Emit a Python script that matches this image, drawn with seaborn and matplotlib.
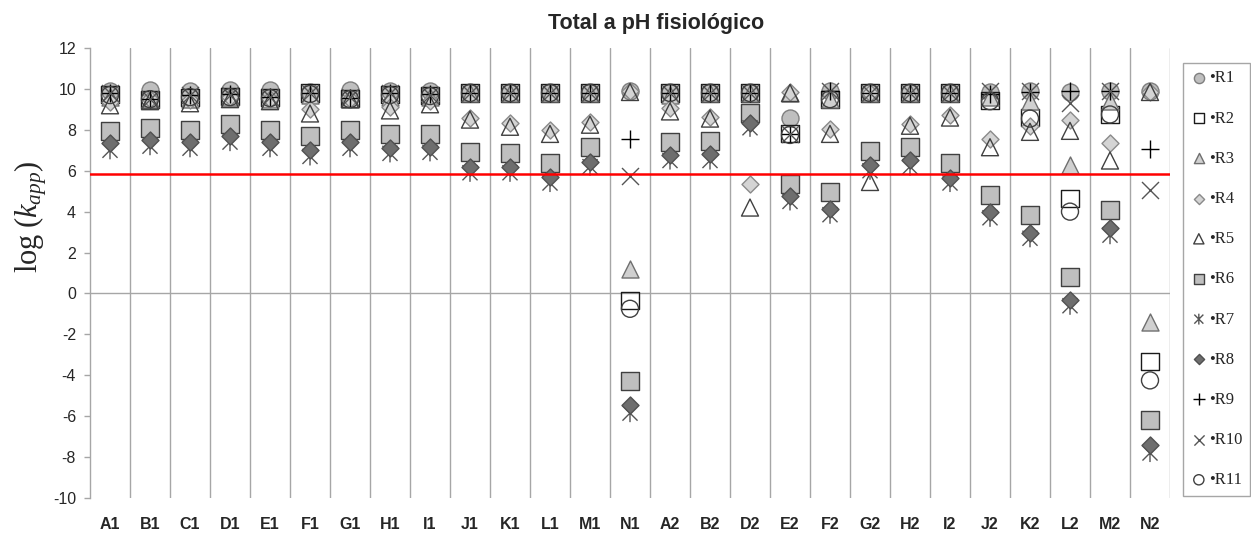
import matplotlib
matplotlib.use("Agg")
import matplotlib.pyplot as plt
from matplotlib.path import Path
import numpy as np
import pandas as pd
import seaborn as sns

# Compounds along the x axis
categories = ["A1", "B1", "C1", "D1", "E1", "F1", "G1", "H1", "I1", "J1", "K1", "L1", "M1", "N1",
              "A2", "B2", "D2", "E2", "F2", "G2", "H2", "I2", "J2", "K2", "L2", "M2", "N2"]

# log(k_app) for each reaction, one value per compound
r1 = [9.9, 9.95, 9.9, 9.95, 9.95, 9.85, 9.95, 9.9, 9.9, 9.85, 9.85, 9.85, 9.85, 9.9,
      9.85, 9.85, 9.85, 8.6, 9.9, 9.85, 9.85, 9.85, 9.85, 9.9, 9.85, 9.9, 9.9]
r2 = [9.75, 9.5, 9.6, 9.65, 9.6, 9.8, 9.55, 9.75, 9.7, 9.8, 9.8, 9.8, 9.8, -0.35,
      9.8, 9.8, 9.8, 7.8, 9.5, 9.8, 9.8, 9.8, 9.45, 8.6, 4.65, 8.75, -3.35]
r3 = [9.6, 9.5, 9.5, 9.6, 9.5, 9.7, 9.5, 9.6, 9.6, 9.8, 9.8, 9.8, 9.8, 1.2,
      9.7, 9.8, 9.8, 9.8, 9.5, 9.8, 9.8, 9.8, 9.6, 9.4, 6.3, 9.4, -1.4]
r4 = [9.35, 9.5, 9.45, 9.6, 9.5, 9.0, 9.5, 9.1, 9.4, 8.6, 8.35, 8.0, 8.4, 9.9,
      9.05, 8.65, 5.35, 9.85, 8.05, 9.8, 8.3, 8.7, 7.55, 8.2, 8.5, 7.35, 9.85]
r5 = [9.2, 9.4, 9.3, 9.5, 9.4, 8.8, 9.5, 8.95, 9.25, 8.5, 8.15, 7.8, 8.25, 9.85,
      8.9, 8.55, 4.2, 9.8, 7.8, 5.45, 8.2, 8.6, 7.15, 7.9, 7.95, 6.5, 9.85]
r6 = [7.95, 8.1, 8.0, 8.3, 8.0, 7.7, 8.0, 7.8, 7.8, 6.9, 6.85, 6.4, 7.15, -4.3,
      7.4, 7.45, 8.8, 5.35, 4.95, 6.95, 7.15, 6.4, 4.8, 3.85, 0.8, 4.1, -6.2]
r7 = [7.0, 7.2, 7.1, 7.4, 7.1, 6.7, 7.1, 6.85, 6.9, 5.9, 5.9, 5.4, 6.2, -5.85,
      6.5, 6.5, 8.1, 4.5, 3.85, 6.0, 6.2, 5.4, 3.7, 2.7, -0.6, 2.85, -7.8]
r8 = [7.35, 7.5, 7.4, 7.7, 7.4, 7.0, 7.4, 7.1, 7.15, 6.2, 6.2, 5.7, 6.45, -5.45,
      6.75, 6.8, 8.35, 4.75, 4.15, 6.3, 6.5, 5.65, 4.0, 2.95, -0.3, 3.2, -7.4]
r9 = [9.8, 9.5, 9.7, 9.75, 9.6, 9.8, 9.55, 9.8, 9.75, 9.8, 9.8, 9.8, 9.8, 7.55,
      9.8, 9.8, 9.8, 7.8, 9.9, 9.8, 9.8, 9.8, 9.75, 9.85, 9.9, 9.9, 7.05]
r10 = [9.8, 9.5, 9.7, 9.7, 9.6, 9.8, 9.6, 9.8, 9.7, 9.8, 9.8, 9.8, 9.8, 5.75,
       9.8, 9.8, 9.8, 7.8, 9.9, 9.8, 9.8, 9.8, 9.9, 9.9, 9.3, 9.9, 5.05]
r11 = [9.7, 9.5, 9.6, 9.6, 9.55, 9.75, 9.5, 9.7, 9.65, 9.8, 9.8, 9.8, 9.8, -0.75,
       9.8, 9.8, 9.8, 7.75, 9.5, 9.8, 9.8, 9.8, 9.4, 8.55, 4.0, 8.75, -4.25]

series_names = ["R1", "R2", "R3", "R4", "R5", "R6", "R7", "R8", "R9", "R10", "R11"]
series_values = [r1, r2, r3, r4, r5, r6, r7, r8, r9, r10, r11]
threshold = 5.85

y_ticks = list(range(-10, 13, 2))

# Six-armed star: an X crossed by a vertical stroke
star = Path([(-1, -1), (1, 1), (-1, 1), (1, -1), (0, -1.2), (0, 1.2)],
            [Path.MOVETO, Path.LINETO, Path.MOVETO, Path.LINETO, Path.MOVETO, Path.LINETO])

# Filled / outlined markers get face and edge colours; line-art markers only a colour
styles = {
    "R1": dict(marker="o", s=150, facecolor="#bfbfbf", edgecolor="#7f7f7f", color="#7f7f7f"),
    "R2": dict(marker="s", s=150, facecolor="none", edgecolor="#1a1a1a", color="#1a1a1a"),
    "R3": dict(marker="^", s=150, facecolor="#d0d0d0", edgecolor="#6f6f6f", color="#6f6f6f"),
    "R4": dict(marker="D", s=75, facecolor="#d4d4d4", edgecolor="#8a8a8a", color="#8a8a8a"),
    "R5": dict(marker="^", s=150, facecolor="none", edgecolor="#404040", color="#404040"),
    "R6": dict(marker="s", s=150, facecolor="#bfbfbf", edgecolor="#404040", color="#404040"),
    "R7": dict(marker=star, s=170, facecolor="none", edgecolor="#555555", color="#555555"),
    "R8": dict(marker="D", s=75, facecolor="#6e6e6e", edgecolor="#505050", color="#505050"),
    "R9": dict(marker="+", s=180, color="#000000"),
    "R10": dict(marker="x", s=150, color="#555555"),
    "R11": dict(marker="o", s=150, facecolor="none", edgecolor="#404040", color="#404040"),
}

rows = []
for name, vals in zip(series_names, series_values):
    for cat, v in zip(categories, vals):
        rows.append({"compound": cat, "reaction": name, "logk": v})
df = pd.DataFrame(rows)

sns.set_theme(style="white")
plt.rcParams["font.family"] = ["Liberation Sans", "DejaVu Sans"]
plt.rcParams["mathtext.fontset"] = "custom"
plt.rcParams["mathtext.rm"] = "Liberation Serif"
plt.rcParams["mathtext.it"] = "Liberation Serif:italic"

fig = plt.figure(figsize=(12.51, 5.41), dpi=100)
ax = fig.add_axes([90 / 1251, 43 / 541, 1080 / 1251, 450 / 541])

n = len(categories)
# Category separators and zero line
for b in np.arange(0.5, n, 1.0):
    ax.axvline(b, color="#a6a6a6", lw=1.0, zorder=0)
ax.axhline(0, color="#a6a6a6", lw=1.0, zorder=0)

handles = []
for i, name in enumerate(series_names):
    st = dict(styles[name])
    sub = df[df["reaction"] == name]
    sns.scatterplot(data=sub, x="compound", y="logk", ax=ax, legend=False,
                    linewidth=1.0, zorder=3 + i, **st)
    handles.append(ax.collections[-1])

ax.axhline(threshold, color="#ff0000", lw=1.8, zorder=20)

ax.set_xlim(-0.5, n - 0.5)
ax.set_ylim(-10, 12)
ax.set_yticks(y_ticks)
ax.set_yticklabels([str(t) for t in y_ticks], fontsize=11.5)
ax.set_xticks(range(n))
ax.set_xticklabels(categories, fontsize=11.5, fontweight="bold")
ax.tick_params(axis="x", length=0, pad=14)
ax.tick_params(axis="y", length=4, width=1, color="#a6a6a6", direction="out", left=True, pad=6)
for side in ["top", "bottom", "right"]:
    ax.spines[side].set_visible(False)
ax.spines["left"].set_color("#a6a6a6")
ax.spines["left"].set_linewidth(1.0)
ax.set_xlabel("")
ax.set_ylabel(r"$\mathrm{log}\;(k_{app})$", fontsize=22)
ax.yaxis.set_label_coords(-0.038, 0.624)

fig.text(656 / 1251, 1 - 23 / 541, "Total a pH fisiológico", ha="center", va="center",
         fontsize=15.5, fontweight="bold")

leg = fig.legend(handles, ["\u2022" + s for s in series_names],
                 loc="upper left", bbox_to_anchor=(1183 / 1251, 1 - 63 / 541),
                 prop={"family": "Liberation Serif", "size": 12},
                 frameon=True, fancybox=False, edgecolor="#a6a6a6", framealpha=1,
                 markerscale=0.6, handletextpad=0.1, labelspacing=1.45,
                 borderpad=0.45, handlelength=1.0, borderaxespad=0)
leg.get_frame().set_linewidth(1.0)

fig.savefig("out.png", dpi=100)
